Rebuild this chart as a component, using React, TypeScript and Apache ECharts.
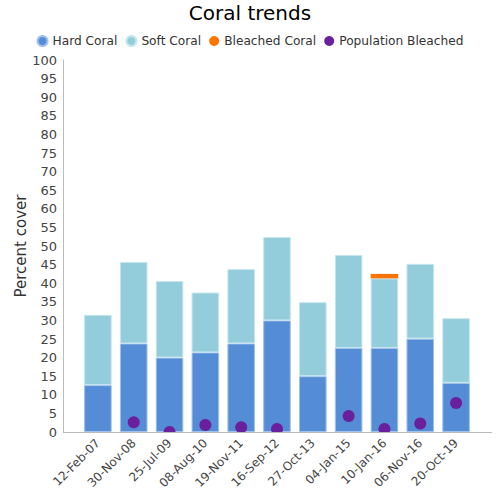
import React, { useEffect, useRef } from "react";
import * as echarts from "echarts";

const categories = ["12-Feb-07", "30-Nov-08", "25-Jul-09", "08-Aug-10", "19-Nov-11", "16-Sep-12", "27-Oct-13", "04-Jan-15", "10-Jan-16", "06-Nov-16", "20-Oct-19"];
const hardCoral = [12.6, 23.8, 20.0, 21.4, 23.8, 30.0, 15.0, 22.6, 22.6, 25.1, 13.2];
const softCoral = [18.9, 21.9, 20.6, 16.1, 20.0, 22.4, 19.9, 25.0, 18.7, 20.1, 17.4];
const bleachedCoral = [null, null, null, null, null, null, null, null, 1.2, null, null];
const populationBleached = [null, 2.6, 0, 1.9, 1.3, 0.8, null, 4.3, 0.8, 2.3, 7.8];

export default function App() {
  const ref = useRef<HTMLDivElement>(null);
  useEffect(() => {
    if (!ref.current) return;
    const chart = echarts.init(ref.current, null, { renderer: "svg" });
    const font = "DejaVu Sans";
    chart.setOption({
      animation: false,
      textStyle: { fontFamily: font },
      title: {
        text: "Coral trends",
        left: "center",
        top: -2,
        textStyle: { fontFamily: font, fontSize: 20, fontWeight: "normal", color: "#000" },
      },
      legend: {
        top: 30,
        left: "center",
        icon: "circle",
        itemWidth: 10,
        itemHeight: 10,
        itemGap: 8,
        textStyle: { fontFamily: font, fontSize: 12.2, color: "#333" },
        data: ["Hard Coral", "Soft Coral", "Bleached Coral", "Population Bleached"],
      },
      grid: { left: 80, right: 26, top: 60, bottom: 68 },
      graphic: [
        {
          type: "rect",
          shape: { x: 60, y: 433, width: 440, height: 6 },
          style: { fill: "#fff" },
          z: 100,
        },
        {
          type: "line",
          shape: { x1: 63, y1: 432.5, x2: 492, y2: 432.5 },
          style: { stroke: "#bbb", lineWidth: 1 },
          z: 101,
        },
      ],
      xAxis: {
        type: "category",
        data: categories,
        axisLine: { show: false },
        axisTick: { show: false },
        axisLabel: { rotate: 45, fontSize: 12, color: "#444", fontFamily: font, margin: 9, interval: 0 },
      },
      yAxis: {
        type: "value",
        min: 0,
        max: 100,
        interval: 5,
        offset: 17,
        name: "Percent cover",
        nameLocation: "middle",
        nameGap: 35,
        nameMoveOverlap: false,
        nameTextStyle: { fontSize: 15, color: "#333", fontFamily: font },
        axisLine: { show: true, lineStyle: { color: "#bbb" } },
        axisTick: { show: false },
        splitLine: { show: false },
        axisLabel: { fontSize: 13, color: "#444", fontFamily: font, margin: 6 },
      },
      series: [
        {
          name: "Hard Coral",
          type: "bar",
          stack: "c",
          data: hardCoral,
          barWidth: "77%",
          itemStyle: { color: "#548dd6", borderColor: "#9fc1ea", borderWidth: 1 },
        },
        {
          name: "Soft Coral",
          type: "bar",
          stack: "c",
          data: softCoral,
          itemStyle: { color: "#93cddb", borderColor: "#c6e6ee", borderWidth: 1 },
        },
        {
          name: "Bleached Coral",
          type: "bar",
          stack: "c",
          data: bleachedCoral,
          itemStyle: { color: "#ff7400" },
        },
        {
          name: "Population Bleached",
          type: "scatter",
          data: populationBleached,
          symbolSize: 12,
          itemStyle: { color: "#6a1f9c", opacity: 1 },
          z: 5,
        },
      ],
    });
    return () => chart.dispose();
  }, []);
  return <div ref={ref} style={{ width: 500, height: 500, position: "absolute", left: 0, top: 0 }} />;
}
